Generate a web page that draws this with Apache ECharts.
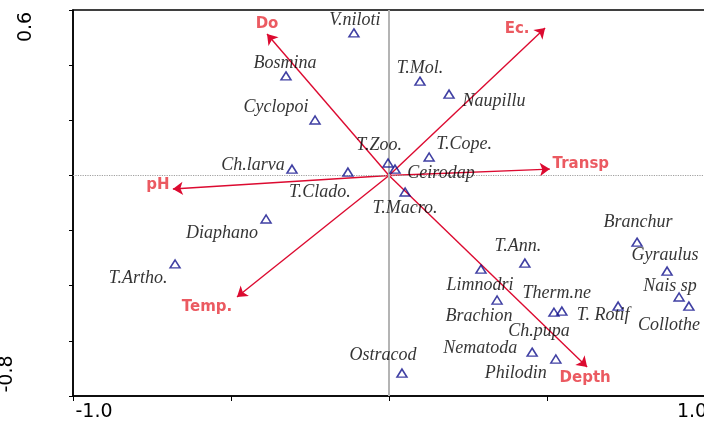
<!DOCTYPE html>
<html>
<head>
<meta charset="utf-8">
<script src="https://cdn.jsdelivr.net/npm/echarts@6/dist/echarts.min.js"></script>
<style>
html,body{margin:0;padding:0;background:#fff;}
#chart{width:704px;height:425px;}
</style>
</head>
<body>
<div id="chart"></div>
<script>
// ---- data ----
const speciesNames = ['V.niloti','Bosmina','T.Mol.','Naupillu','Cyclopoi','T.Cope.','T.Zoo.','Ceirodap','Ch.larva','T.Clado.','T.Macro.','Diaphano','T.Artho.','Branchur','T.Ann.','Limnodri','Gyraulus','Nais sp','Collothe','Brachion','Therm.ne','Ch.pupa','T. Rotif','Nematoda','Philodin','Ostracod'];
const speciesX = [-0.111,-0.326,0.098,0.190,-0.234,0.127,-0.003,0.019,-0.307,-0.130,0.051,-0.389,-0.677,0.785,0.430,0.291,0.880,0.918,0.949,0.342,0.547,0.522,0.725,0.453,0.528,0.041];
const speciesY = [0.517,0.361,0.342,0.295,0.201,0.067,0.045,0.023,0.023,0.012,-0.060,-0.158,-0.321,-0.242,-0.318,-0.340,-0.347,-0.441,-0.474,-0.452,-0.492,-0.496,-0.474,-0.641,-0.666,-0.717];

const envNames = ['Do','Ec.','Transp','pH','Temp.','Depth'];
const envX = [-0.386,0.494,0.509,-0.684,-0.481,0.627];
const envY = [0.513,0.535,0.023,-0.049,-0.441,-0.695];

const xTickLabels = {'-1': '-1.0', '1': '1.0'};
const yTickLabels = {'0.6': '0.6', '-0.8': '-0.8'};

// ---- layout (label offsets in px) ----
const speciesLabelOffset = {
  'V.niloti':[1,-13],'Bosmina':[-1,-13],'T.Mol.':[0,-13],'Naupillu':[45,7],'Cyclopoi':[-39,-13],
  'T.Cope.':[35,-13],'T.Zoo.':[-9,-18],'Ceirodap':[46,4],'Ch.larva':[-39,-4],'T.Clado.':[-28,20],
  'T.Macro.':[0,16],'Diaphano':[-44,14],'T.Artho.':[-37,14],'Branchur':[1,-20],'T.Ann.':[-7,-17],
  'Limnodri':[-1,16],'Gyraulus':[-2,-16],'Nais sp':[-9,-11],'Collothe':[-20,19],'Brachion':[-18,16],
  'Therm.ne':[-5,-18],'Ch.pupa':[-15,19],'T. Rotif':[-15,9],'Nematoda':[-52,-4],'Philodin':[-40,14],
  'Ostracod':[-19,-18]
};
const envLabelOffset = {
  'Do':[0,-10],'Ec.':[-28,1],'Transp':[31,-5],'pH':[-15,-4],'Temp.':[-30,10],'Depth':[-2,11]
};

function keyOf(v){ return String(Math.round(v*10)/10); }

const chart = echarts.init(document.getElementById('chart'), null, {renderer:'canvas'});

const speciesData = speciesNames.map((n,i)=>({
  name:n, value:[speciesX[i], speciesY[i]],
  label:{offset: speciesLabelOffset[n]}
}));
const envLines = envNames.map((n,i)=>({coords:[[0,0],[envX[i],envY[i]]]}));
const envLabelData = envNames.map((n,i)=>({
  name:n, value:[envX[i], envY[i]],
  label:{offset: envLabelOffset[n]}
}));

const axisFont = 'DejaVu Sans';
const option = {
  animation:false,
  backgroundColor:'#fff',
  grid:{left:73, right:-1, top:10, bottom:29, containLabel:false, outerBoundsMode:'none',
    show:true, borderColor:'#000', borderWidth:1.5, backgroundColor:'transparent'},
  xAxis:{
    type:'value', min:-1, max:1, interval:0.5,
    axisLine:{onZero:false, lineStyle:{color:'#000', width:1.5}},
    axisTick:{length:5, lineStyle:{color:'#000', width:1}},
    splitLine:{show:false},
    axisLabel:{
      margin:7, color:'#000', fontFamily:axisFont, fontSize:19,
      formatter:function(v){
        const k = keyOf(v);
        if (k === '-1') return '{mn|' + xTickLabels[k] + '}';
        if (k === '1') return '{mx|' + xTickLabels[k] + '}';
        return '';
      },
      rich:{
        mn:{fontFamily:axisFont, fontSize:19, color:'#000', padding:[0,0,0,42]},
        mx:{fontFamily:axisFont, fontSize:19, color:'#000', padding:[0,26,0,0]}
      }
    }
  },
  yAxis:{
    type:'value', min:-0.8, max:0.6, interval:0.2,
    axisLine:{onZero:false, lineStyle:{color:'#000', width:1.5}},
    axisTick:{length:4, lineStyle:{color:'#000', width:1}},
    splitLine:{show:false},
    axisLabel:{
      margin:47, rotate:90, align:'center', verticalAlign:'middle',
      color:'#000', fontFamily:axisFont, fontSize:19,
      formatter:function(v){
        const k = keyOf(v);
        if (k === '0.6') return '{top|' + yTickLabels[k] + '}';
        if (k === '-0.8') return '{bot|' + yTickLabels[k] + '}';
        return '';
      },
      rich:{
        top:{fontFamily:axisFont, fontSize:19, color:'#000', padding:[0,34,0,0]},
        bot:{fontFamily:axisFont, fontSize:19, color:'#000', padding:[0,0,38,44]}
      }
    }
  },
  series:[
    {
      type:'scatter', data:[], z:1, silent:true,
      markLine:{
        silent:true, symbol:'none', animation:false,
        label:{show:false},
        data:[
          {xAxis:0, lineStyle:{color:'#b4b4b4', width:2, type:'solid'}},
          {yAxis:0, lineStyle:{color:'#a0a0a0', width:1.2, type:'dotted'}}
        ]
      }
    },
    {
      type:'lines', coordinateSystem:'cartesian2d', z:3, silent:true,
      symbol:['none','arrow'], symbolSize:10,
      lineStyle:{color:'#dc0a30', width:1.4, opacity:1, curveness:0},
      data:envLines
    },
    {
      type:'scatter', z:4, silent:true, symbolSize:1,
      itemStyle:{color:'rgba(0,0,0,0)'},
      label:{show:true, position:'inside', align:'center', verticalAlign:'middle',
        formatter:'{b}', color:'#e6313a', fontFamily:'DejaVu Sans', fontWeight:'bold', fontSize:15},
      data:envLabelData
    },
    {
      type:'scatter', z:5, silent:true,
      symbol:'triangle', symbolSize:[10,8],
      itemStyle:{color:'rgba(0,0,0,0)', borderColor:'#10108c', borderWidth:1.5},
      label:{show:true, position:'inside', align:'center', verticalAlign:'middle',
        formatter:'{b}', color:'#000', fontFamily:'Liberation Serif', fontStyle:'italic', fontSize:18},
      data:speciesData
    }
  ]
};
chart.setOption(option);
</script>
</body>
</html>
